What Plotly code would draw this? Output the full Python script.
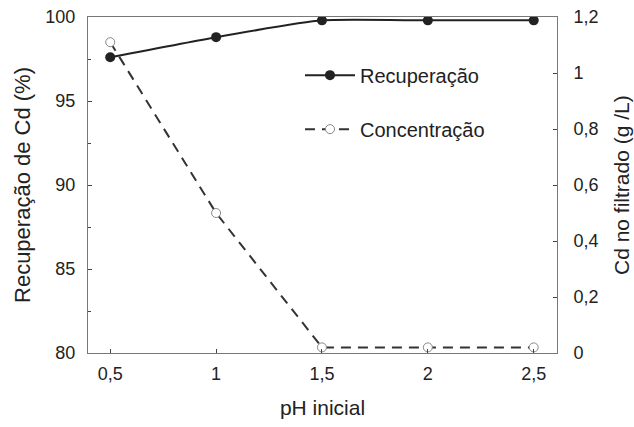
import plotly.graph_objects as go

ph = [0.5, 1, 1.5, 2, 2.5]
recuperacao = [97.6, 98.8, 99.8, 99.8, 99.8]
concentracao = [1.11, 0.50, 0.02, 0.02, 0.02]
x_ticks = [0.5, 1, 1.5, 2, 2.5]
y1_ticks = [80, 85, 90, 95, 100]
y2_ticks = [0, 0.2, 0.4, 0.6, 0.8, 1, 1.2]

fig = go.Figure()
fig.add_trace(go.Scatter(
    x=ph, y=recuperacao, name="Recuperação", mode="lines+markers",
    legendgroup="a",
    line=dict(color="#222222", width=2, shape="spline", smoothing=0.5),
    marker=dict(symbol="circle", size=10, color="#222222"),
    yaxis="y"))
fig.add_trace(go.Scatter(
    x=ph, y=concentracao, name="Concentração", mode="lines+markers",
    legendgroup="b",
    line=dict(color="#333333", width=2, dash="10px,7px"),
    marker=dict(symbol="circle", size=9, color="white",
                line=dict(width=1, color="#888888")),
    yaxis="y2"))

font = "Liberation Sans, Arial, sans-serif"
W, H = 634, 427
L, R, T, B = 88, 77, 17, 74
fig.update_layout(
    width=W, height=H,
    margin=dict(l=L, r=R, t=T, b=B),
    paper_bgcolor="white", plot_bgcolor="white",
    separators=", ",
    font=dict(family=font, color="#222222", size=18),
    showlegend=True,
    legend=dict(x=0.452, y=0.885, xanchor="left", yanchor="top",
                bgcolor="rgba(0,0,0,0)", font=dict(size=20),
                itemwidth=50, tracegroupgap=25, traceorder="grouped"),
    xaxis=dict(range=[0.395, 2.61], tickvals=x_ticks, ticks="inside", ticklen=4,
               showline=True, linecolor="#777777", linewidth=1, mirror=True,
               showgrid=False, zeroline=False, ticklabelstandoff=4, automargin=False,
               title=dict(text="pH inicial", font=dict(size=21), standoff=17)),
    yaxis=dict(range=[80, 100], tickvals=y1_ticks, ticks="inside", ticklen=4,
               minor=dict(ticks="inside", ticklen=3, dtick=2.5),
               showline=True, linecolor="#777777", linewidth=1,
               showgrid=False, zeroline=False, ticklabelstandoff=8, automargin=False,
               title=dict(text="Recuperação de Cd (%)", font=dict(size=22), standoff=8)),
    yaxis2=dict(range=[0, 1.2], tickvals=y2_ticks, overlaying="y", side="right",
                ticks="inside", ticklen=4,
                showline=True, linecolor="#777777", linewidth=1,
                showgrid=False, zeroline=False, ticklabelstandoff=12, automargin=False),
    annotations=[dict(text="Cd no filtrado (g /L)", textangle=-90,
                      xref="paper", yref="paper",
                      x=1 + (621 - (W - R)) / (W - L - R), y=0.5,
                      xanchor="center", yanchor="middle", showarrow=False,
                      font=dict(size=21, family=font, color="#222222"))],
)

fig.write_html("out.html", config={"displayModeBar": False},
               post_script="document.body.style.margin='0';document.body.style.overflow='hidden';")
